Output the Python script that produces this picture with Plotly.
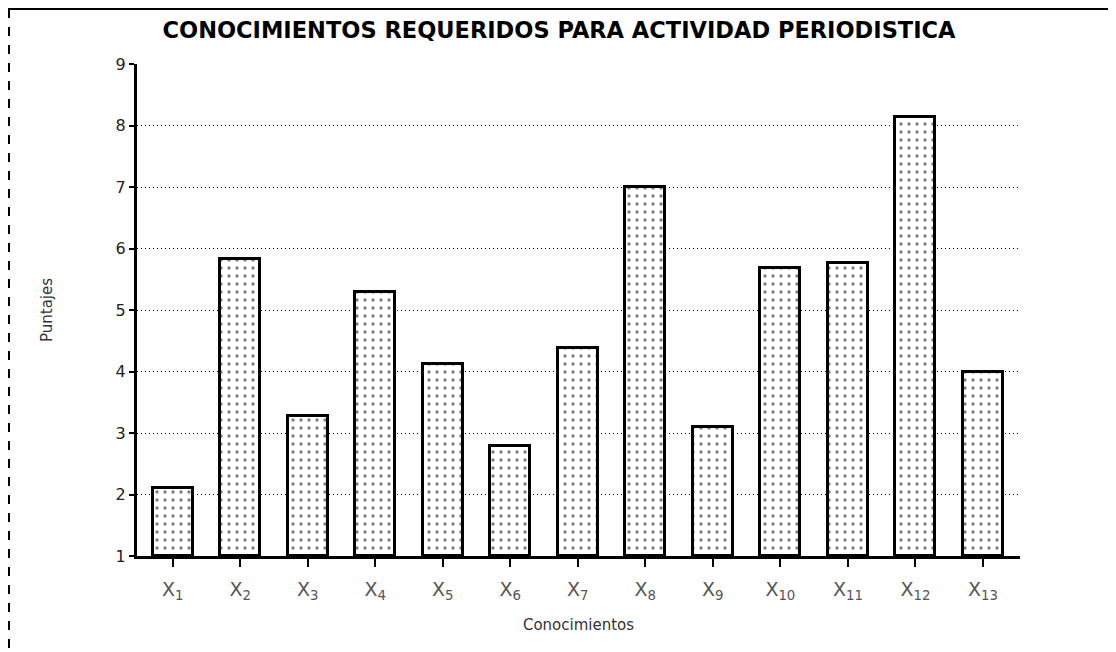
import plotly.graph_objects as go

categories = ["X<sub>1</sub>", "X<sub>2</sub>", "X<sub>3</sub>", "X<sub>4</sub>", "X<sub>5</sub>",
              "X<sub>6</sub>", "X<sub>7</sub>", "X<sub>8</sub>", "X<sub>9</sub>", "X<sub>10</sub>",
              "X<sub>11</sub>", "X<sub>12</sub>", "X<sub>13</sub>"]
puntajes = [2.1, 5.83, 3.28, 5.29, 4.12, 2.79, 4.38, 7.0, 3.1, 5.68, 5.76, 8.14, 4.0]
y_ticks = [1, 2, 3, 4, 5, 6, 7, 8, 9]

# page has an ~8px body offset, so the figure is sized to fit inside the window
W, H = 1108, 644
L, R, T, B = 129, 96, 56, 96
PW, PH = W - L - R, H - T - B

fig = go.Figure()
fig.add_trace(go.Bar(
    x=list(range(len(categories))),
    y=[v - 1 for v in puntajes],
    base=1,
    width=0.59,
    marker=dict(
        color="white",
        line=dict(color="black", width=3),
        pattern=dict(shape=".", fgcolor="black", bgcolor="white", size=8, solidity=0.14),
    ),
    hoverinfo="skip",
))

fig.update_layout(
    width=W, height=H,
    margin=dict(l=L, r=R, t=T, b=B),
    paper_bgcolor="white", plot_bgcolor="white",
    showlegend=False,
    bargap=0,
    title=dict(
        text="<b>CONOCIMIENTOS REQUERIDOS PARA ACTIVIDAD PERIODISTICA</b>",
        x=551 / W, xanchor="center", xref="container",
        y=1 - 22 / H, yanchor="middle", yref="container",
        font=dict(family="DejaVu Sans", size=22.5, color="black"),
    ),
    xaxis=dict(
        tickmode="array",
        tickvals=list(range(len(categories))),
        ticktext=categories,
        range=[-0.53, 12.55],
        showgrid=False, zeroline=False,
        showline=True, linecolor="black", linewidth=3,
        ticks="outside", ticklen=8, tickwidth=1.5, tickcolor="black",
        ticklabelstandoff=6,
        tickfont=dict(family="DejaVu Sans", size=19, color="#555"),
        title=dict(text="Conocimientos", font=dict(family="DejaVu Sans", size=15, color="#333"), standoff=18),
    ),
    yaxis=dict(
        tickmode="array",
        tickvals=y_ticks,
        ticktext=[str(t) for t in y_ticks],
        range=[1, 9],
        showgrid=True, gridcolor="black", gridwidth=1.2, griddash="1px,3px",
        zeroline=False,
        showline=True, linecolor="black", linewidth=3,
        ticks="outside", ticklen=5, tickwidth=1.5, tickcolor="black",
        tickfont=dict(family="DejaVu Sans", size=16, color="#222"),
        title=dict(text="Puntajes", font=dict(family="DejaVu Sans", size=15, color="#333"), standoff=60),
    ),
    shapes=[
        dict(type="line", xref="paper", yref="paper",
             x0=-L / PW, x1=1 + R / PW,
             y0=1 + (T - 1) / PH, y1=1 + (T - 1) / PH,
             line=dict(color="black", width=2)),
        dict(type="line", xref="paper", yref="paper",
             x0=-(L - 1) / PW, x1=-(L - 1) / PW,
             y0=1 + (T - 1) / PH, y1=-B / PH,
             line=dict(color="black", width=2, dash="dash")),
    ],
)

fig.write_html("out.html")
